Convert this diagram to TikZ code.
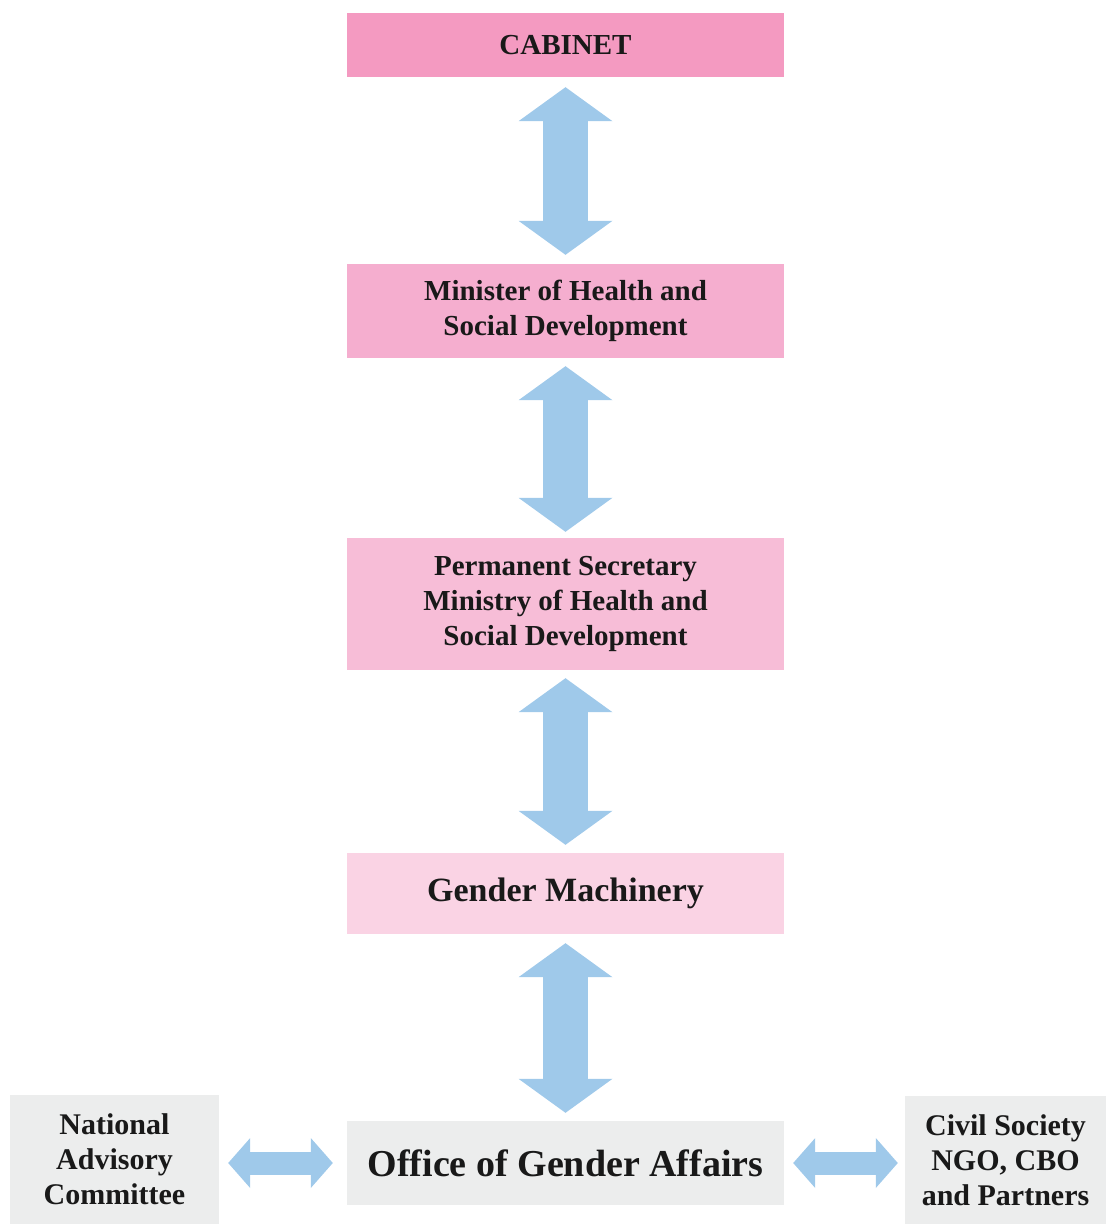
\documentclass[tikz,border=0pt]{standalone}
\usepackage{fontspec}
\setmainfont{Liberation Serif}
\usetikzlibrary{arrows.meta}

\definecolor{cabpink}{HTML}{F49AC1}
\definecolor{minpink}{HTML}{F5AECF}
\definecolor{secpink}{HTML}{F7BDD7}
\definecolor{genpink}{HTML}{FAD3E4}
\definecolor{boxgray}{HTML}{ECEDED}
\definecolor{arrowblue}{HTML}{9FC9EA}

\tikzset{
  level/.style={minimum width=437pt, inner sep=0pt, align=center, text=black!90,
    font=\fontsize{29}{35}\selectfont\bfseries},
  side/.style={fill=boxgray, inner sep=0pt, align=center, text=black!90,
    font=\fontsize{30}{35}\selectfont\bfseries},
  vlink/.style={arrowblue, line width=45pt,
    {Triangle[length=34pt,width=94pt,line width=0pt]}-{Triangle[length=34pt,width=94pt,line width=0pt]}},
  hlink/.style={arrowblue, line width=23pt,
    {Triangle[length=22pt,width=50pt,line width=0pt]}-{Triangle[length=22pt,width=50pt,line width=0pt]}}
}

\begin{document}
\begin{tikzpicture}[x=1pt,y=-1pt]
  \useasboundingbox (0,0) rectangle (1106,1224);

  % chain of offices
  \node[level, fill=cabpink, minimum height=64pt] (cab) at (565.5,45) {CABINET};
  \node[level, fill=minpink, minimum height=94pt] (min) at (565.5,311) {Minister of Health and\\Social Development};
  \node[level, fill=secpink, minimum height=132pt] (sec) at (565.5,604) {Permanent Secretary\\Ministry of Health and\\Social Development};
  \node[level, fill=genpink, minimum height=81pt, font=\fontsize{34}{40}\selectfont\bfseries] (gen) at (565.5,893.5) {Gender Machinery};
  \node[level, fill=boxgray, minimum height=84pt, font=\fontsize{38}{44}\selectfont\bfseries] (oga) at (565.5,1163) {Office of Gender Affairs};

  % partners on both sides
  \node[side, minimum width=209pt, minimum height=129pt] (nac) at (114.5,1159.5) {National\\Advisory\\Committee};
  \node[side, minimum width=201pt, minimum height=128pt] (csp) at (1005.5,1160) {Civil Society\\NGO, CBO\\and Partners};

  \draw[vlink, shorten <=10pt, shorten >=9pt] (cab) -- (min);
  \draw[vlink, shorten <=8pt, shorten >=6pt] (min) -- (sec);
  \draw[vlink, shorten <=8pt, shorten >=8pt] (sec) -- (gen);
  \draw[vlink, shorten <=9pt, shorten >=8pt] (gen) -- (oga);

  \draw[hlink, shorten <=14pt, shorten >=9pt] (oga.west) -- (nac.east |- oga.west);
  \draw[hlink, shorten <=9pt, shorten >=7pt] (oga.east) -- (csp.west |- oga.east);
\end{tikzpicture}
\end{document}
